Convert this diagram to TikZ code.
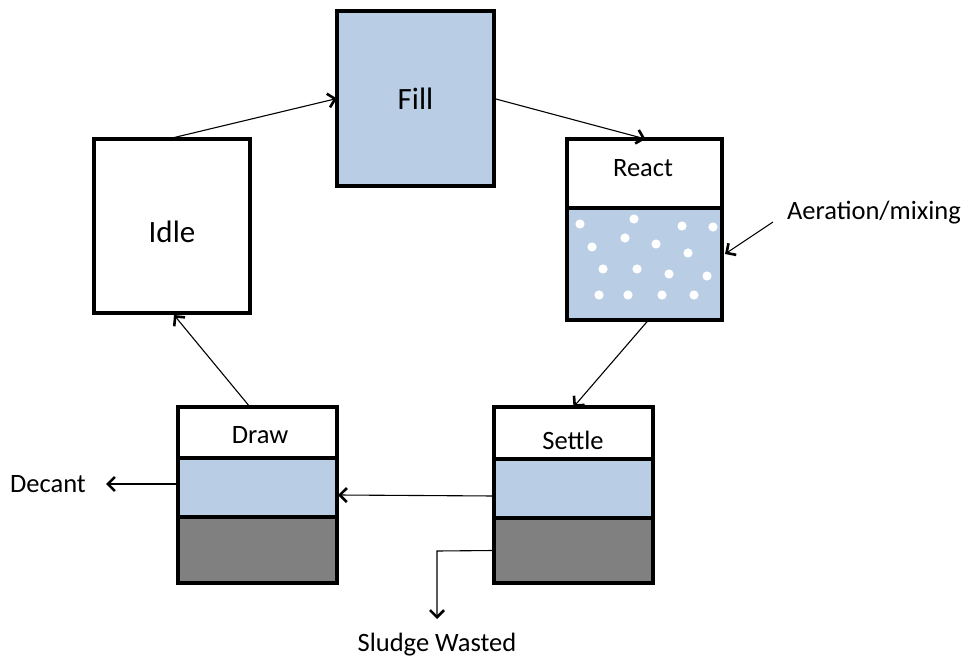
\documentclass[tikz,border=0pt]{standalone}
\usepackage{fontspec}
\setmainfont{Carlito}
\usetikzlibrary{arrows.meta}
\definecolor{water}{HTML}{B9CDE5}
\definecolor{sludge}{HTML}{808080}
\begin{document}
\begin{tikzpicture}[x=1pt,y=-1pt,
  box/.style={draw=black,line width=3.2pt,rectangle,inner sep=0pt,outer sep=0pt,font=\fontsize{26}{30}\selectfont},
  bigbox/.style={box,font=\fontsize{31}{36}\selectfont},
  conn/.style={line width=1.1pt,-{Straight Barb[length=7pt,width=14pt,line width=2.6pt]}},
  lbl/.style={inner sep=0pt,font=\fontsize{26.5}{30}\selectfont},
  dot/.style={fill=white,draw=none}]
\useasboundingbox (0,0) rectangle (967,660);
% Fill
\node[bigbox,fill=water,minimum width=157,minimum height=175] (fill) at (415.5,98.5) {Fill};
% Idle
\node[bigbox,fill=white,minimum width=156,minimum height=174] (idle) at (172,226) {};
\node[lbl,font=\fontsize{31}{36}\selectfont] (idlet) at (172,232) {Idle};
% React
\node[box,fill=water,minimum width=155,minimum height=112] (reactw) at (644.5,264) {};
\node[box,fill=white,minimum width=155,minimum height=69] (reactt) at (644.5,173.5) {};
\node[lbl] (reactl) at (643,168) {React};
\foreach \p in {(580,224),(634,219),(682,226),(713,227),(592,247),(625,238),(656,244),(688,253),(603,269),(637,269),(669,274),(707,276),(599,295),(628,295),(662,295),(694,295)}
  \fill[dot] \p circle (4.6);
% Settle
\node[box,fill=sludge,minimum width=159,minimum height=65] (settles) at (573.5,550.5) {};
\node[box,fill=water,minimum width=159,minimum height=59] (settlew) at (573.5,488.5) {};
\node[box,fill=white,minimum width=159,minimum height=52] (settlet) at (573.5,433) {};
\node[lbl] (settlel) at (573,440) {Settle};
% Draw
\node[box,fill=sludge,minimum width=159,minimum height=66] (draws) at (257.5,550) {};
\node[box,fill=water,minimum width=159,minimum height=59] (draww) at (257.5,487.5) {};
\node[box,fill=white,minimum width=159,minimum height=51] (drawt) at (257.5,432.5) {};
\node[lbl] (drawl) at (260,435) {Draw};
% labels
\node[lbl] (aer) at (874,213) {Aeration/mixing};
\node[lbl] (dec) at (48,484) {Decant};
\node[lbl] (slw) at (437,645) {Sludge Wasted};
\coordinate (aerstart) at (773,222);
\coordinate (slbend) at (437,551);
\coordinate (slend) at (437,619);
% connectors
\draw[conn] ([xshift=-4pt]idle.north) -- (fill.west);
\draw[conn] (fill.east) -- ([xshift=1pt]reactt.north);
\draw[conn] (aerstart) -- ([yshift=10pt,xshift=3pt]reactw.east);
\draw[conn] ([xshift=4pt]reactw.south) -- (settlet.north);
\draw[conn] ([xshift=-7.5pt]drawt.north) -- ([xshift=2pt,yshift=-2pt]idle.south);
\draw[conn] ([yshift=-7.5pt]settlew.west) -- ([yshift=-7.5pt,xshift=1pt]draww.east);
\draw[conn] ([yshift=3.5pt]draww.west) -- ([xshift=20pt]dec.east);
\draw[conn] (settles.west) -- (slbend) -- (slend);
\end{tikzpicture}
\end{document}
